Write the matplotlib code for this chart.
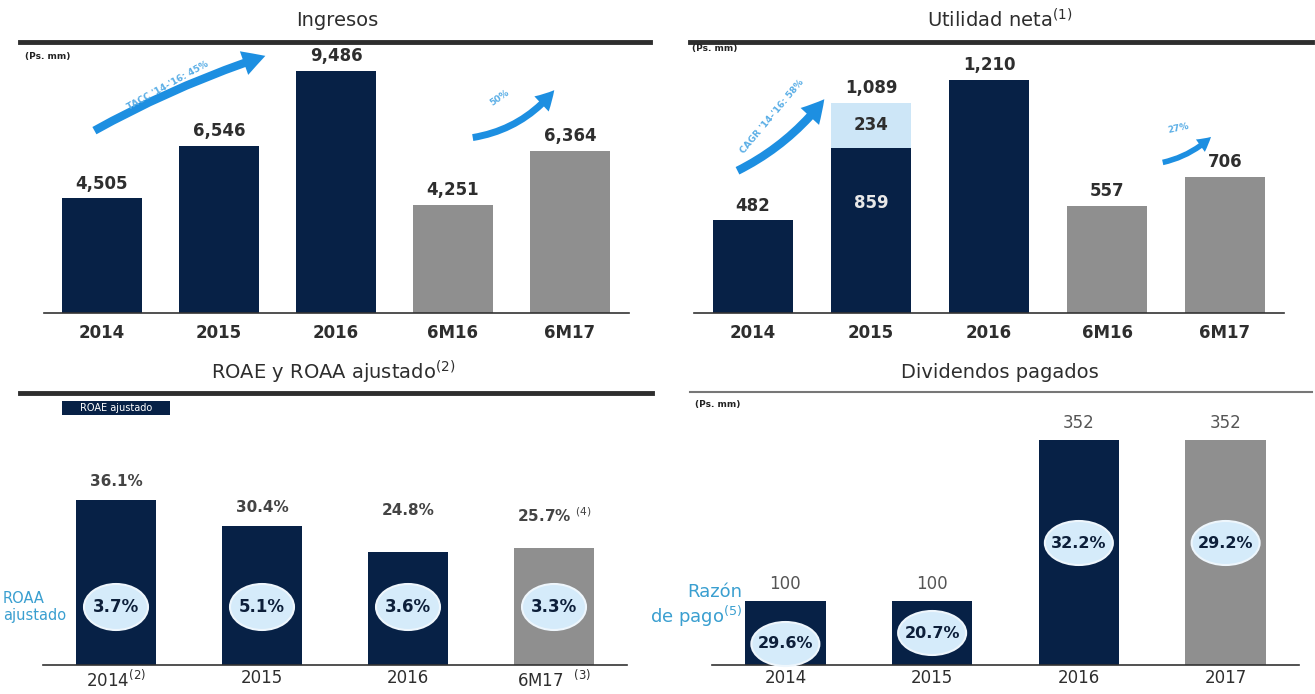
import matplotlib
matplotlib.use("Agg")
import matplotlib.pyplot as plt
from matplotlib import font_manager as fm
from matplotlib.patches import FancyArrowPatch, Rectangle, Ellipse
from matplotlib.lines import Line2D

# ---------------- data ----------------
ing_cats = ['2014', '2015', '2016', '6M16', '6M17']
ing_vals = [4505, 6546, 9486, 4251, 6364]

util_cats = ['2014', '2015', '2016', '6M16', '6M17']
util_base = [482, 859, 1210, 557, 706]
util_extra = [0, 234, 0, 0, 0]
util_total = [482, 1089, 1210, 557, 706]

roae_cats = ['2014$^{(2)}$', '2015', '2016', '6M17  $^{(3)}$']
roae_vals = [36.1, 30.4, 24.8, 25.7]
roae_notes = ['', '', '', ' $^{(4)}$']
roaa_vals = [3.7, 5.1, 3.6, 3.3]

div_cats = ['2014', '2015', '2016', '2017']
div_vals = [100, 100, 352, 352]
payout_vals = [29.6, 20.7, 32.2, 29.2]

# ---------------- style ----------------
NAVY = '#072146'
GRAY = '#8f8f8f'
LIGHT = '#cde6f7'
ELL = '#d5ebfa'
ARROW = '#1d8fe1'
TXT = '#2e2e2e'
TEAL = '#3a9fd0'


def has_font(name):
    try:
        fm.findfont(fm.FontProperties(family=name), fallback_to_default=False)
        return True
    except Exception:
        return False


NARROW = 'Liberation Sans Narrow' if has_font('Liberation Sans Narrow') else 'DejaVu Sans'
plt.rcParams['font.family'] = [NARROW, 'DejaVu Sans']
plt.rcParams['mathtext.fontset'] = 'dejavusans'

W, H = 1315, 694
fig = plt.figure(figsize=(W / 100, H / 100), dpi=100)


def ax_px(left, top, width, height):
    ax = fig.add_axes([left / W, 1 - (top + height) / H, width / W, height / H])
    ax.patch.set_visible(False)
    ax._px = (width, height)
    for s in ['top', 'right', 'left']:
        ax.spines[s].set_visible(False)
    ax.spines['bottom'].set_color('#333333')
    ax.spines['bottom'].set_linewidth(1.2)
    ax.set_yticks([])
    ax.tick_params(axis='x', length=0)
    return ax


def ftext(x, y, s, **kw):
    fig.text(x / W, 1 - y / H, s, **kw)


def fline(x0, x1, y, lw=3.5, color='#2e2e2e'):
    fig.add_artist(Line2D([x0 / W, x1 / W], [1 - y / H, 1 - y / H], lw=lw, color=color,
                          transform=fig.transFigure))


def farrow(x0, y0, x1, y1, rad, hw, tw):
    a = FancyArrowPatch((x0, H - y0), (x1, H - y1), transform=None,
                        arrowstyle=f'simple,head_length={hw*0.9},head_width={hw},tail_width={tw}',
                        connectionstyle=f'arc3,rad={rad}', color=ARROW, lw=0, mutation_scale=10)
    fig.add_artist(a)


def ell_label(ax, xi, ypx, txt, wpx, hpx, fs):
    x0, x1 = ax.get_xlim()
    y0, y1 = ax.get_ylim()
    pw, ph = ax._px
    sx = (x1 - x0) / pw
    sy = (y1 - y0) / ph
    yc = ypx * sy
    ax.add_patch(Ellipse((xi, yc), wpx * sx, hpx * sy, fc=ELL, ec='#eef6fc', lw=1.5,
                         zorder=3, clip_on=False))
    ax.text(xi, yc, txt, ha='center', va='center', fontsize=fs, fontweight='bold',
            color='#0d1f3a', zorder=4)


# ---------------- titles and rules ----------------
ftext(337, 20, 'Ingresos', ha='center', va='center', fontsize=14, color=TXT)
ftext(1000, 20, 'Utilidad neta$^{(1)}$', ha='center', va='center', fontsize=14, color=TXT)
ftext(333, 372, 'ROAE y ROAA ajustado$^{(2)}$', ha='center', va='center', fontsize=14, color=TXT)
ftext(1000, 372, 'Dividendos pagados', ha='center', va='center', fontsize=14, color=TXT)
fline(20, 650, 42)
fline(690, 1312, 42)
fline(20, 652, 393)
fline(690, 1312, 392, lw=1.5, color='#777777')
for (x, y) in [(25, 57), (692, 48), (695, 405)]:
    ftext(x, y, '(Ps. mm)', ha='left', va='center', fontsize=6.5, fontweight='bold', color='#222222')

# ---------------- Panel 1: Ingresos ----------------
ax1 = ax_px(43.5, 42, 585, 271)
x = list(range(len(ing_cats)))
c1 = [NAVY, NAVY, NAVY, GRAY, GRAY]
ax1.bar(x, ing_vals, width=0.68, color=c1)
ax1.set_xlim(-0.5, len(x) - 0.5)
ax1.set_ylim(0, max(ing_vals) * 271 / 242)
ax1.set_xticks(x)
ax1.set_xticklabels(ing_cats, fontsize=12, fontweight='bold', color=TXT)
ax1.tick_params(axis='x', pad=8)
for xi, v in zip(x, ing_vals):
    ax1.annotate(f'{v:,}', (xi, v), xytext=(0, 4), textcoords='offset points',
                 ha='center', va='bottom', fontsize=12, fontweight='bold', color=TXT)

farrow(92, 132, 268, 55, -0.05, 1.8, 0.6)
ftext(168, 86, "TACC '14-'16: 45%", ha='center', va='center', rotation=29, fontsize=6.5,
      color='#5aaee6', fontweight='bold')
farrow(470, 138, 556, 88, 0.2, 1.5, 0.5)
ftext(500, 98, '50%', ha='center', va='center', rotation=35, fontsize=6.5,
      color='#5aaee6', fontweight='bold')

# ---------------- Panel 2: Utilidad neta ----------------
ax2 = ax_px(694, 42, 590, 271)
x = list(range(len(util_cats)))
c2 = [NAVY, NAVY, NAVY, GRAY, GRAY]
ax2.bar(x, util_base, width=0.68, color=c2)
ax2.bar(x, util_extra, bottom=util_base, width=0.68, color=LIGHT)
ax2.set_xlim(-0.5, len(x) - 0.5)
ax2.set_ylim(0, max(util_total) * 271 / 233)
ax2.set_xticks(x)
ax2.set_xticklabels(util_cats, fontsize=12, fontweight='bold', color=TXT)
ax2.tick_params(axis='x', pad=8)
for xi, t, b, e in zip(x, util_total, util_base, util_extra):
    ax2.annotate(f'{t:,}', (xi, b + e), xytext=(0, 4), textcoords='offset points',
                 ha='center', va='bottom', fontsize=12, fontweight='bold', color=TXT)
    if e > 0:
        ax2.text(xi, b + e / 2, f'{e:,}', ha='center', va='center', fontsize=12,
                 fontweight='bold', color=TXT)
        ax2.annotate(f'{b:,}', (xi, b), xytext=(0, -40), textcoords='offset points',
                     ha='center', va='center', fontsize=12, fontweight='bold', color='#e8e8e8')

farrow(735, 172, 826, 97, 0.12, 1.8, 0.6)
ftext(772, 117, "CAGR '14-'16: 58%", ha='center', va='center', rotation=50, fontsize=6.5,
      color='#5aaee6', fontweight='bold')
farrow(1160, 163, 1213, 135, 0.15, 1.1, 0.4)
ftext(1178, 128, '27%', ha='center', va='center', rotation=12, fontsize=6.5,
      color='#5aaee6', fontweight='bold')

# ---------------- Panel 3: ROAE / ROAA ----------------
ax3 = ax_px(43, 393, 584, 272)
x = list(range(len(roae_cats)))
c3 = [NAVY, NAVY, NAVY, GRAY]
ax3.bar(x, roae_vals, width=0.55, color=c3)
ax3.set_xlim(-0.5, len(x) - 0.5)
ax3.set_ylim(0, max(roae_vals) * 272 / 165)
ax3.set_xticks(x)
ax3.set_xticklabels(roae_cats, fontsize=12, color=TXT)
ax3.tick_params(axis='x', pad=3)
label_off3 = [8, 8, 24, 16]
for xi, v, n, o in zip(x, roae_vals, roae_notes, label_off3):
    ax3.annotate(f'{v:.1f}%{n}', (xi, v), xytext=(0, o), textcoords='offset points',
                 ha='center', va='bottom', fontsize=11, fontweight='bold', color='#444444')
for xi, r in zip(x, roaa_vals):
    ell_label(ax3, xi, 58, f'{r:.1f}%', 64, 46, 12)
ftext(3, 607, 'ROAA\najustado', ha='left', va='center', fontsize=10.5, color=TEAL,
      linespacing=1.15)
# legend box
fig.add_artist(Rectangle((62 / W, 1 - 415 / H), 108 / W, 14 / H, transform=fig.transFigure,
                         fc=NAVY, ec='none'))
ftext(116, 408, 'ROAE ajustado', ha='center', va='center', fontsize=7, color='white')

# ---------------- Panel 4: Dividendos ----------------
ax4 = ax_px(712, 393, 587, 272)
x = list(range(len(div_cats)))
c4 = [NAVY, NAVY, NAVY, GRAY]
ax4.bar(x, div_vals, width=0.55, color=c4)
ax4.set_xlim(-0.5, len(x) - 0.5)
ymax4 = max(div_vals) * 272 / 225
ax4.set_ylim(0, ymax4)
ax4.set_xticks(x)
ax4.set_xticklabels(div_cats, fontsize=12, color=TXT)
ax4.tick_params(axis='x', pad=3)
for xi, v in zip(x, div_vals):
    ax4.annotate(f'{v}', (xi, v), xytext=(0, 6), textcoords='offset points',
                 ha='center', va='bottom', fontsize=12, color='#555555')
ell_px4 = [21, 32, 122, 122]
for xi, p, e in zip(x, payout_vals, ell_px4):
    ell_label(ax4, xi, e, f'{p:.1f}%', 68, 44, 11.5)
ftext(742, 606, 'Razón\nde pago$^{(5)}$', ha='right', va='center', fontsize=13, color=TEAL,
      linespacing=1.1, multialignment='right')

fig.savefig('out.png', dpi=100)
